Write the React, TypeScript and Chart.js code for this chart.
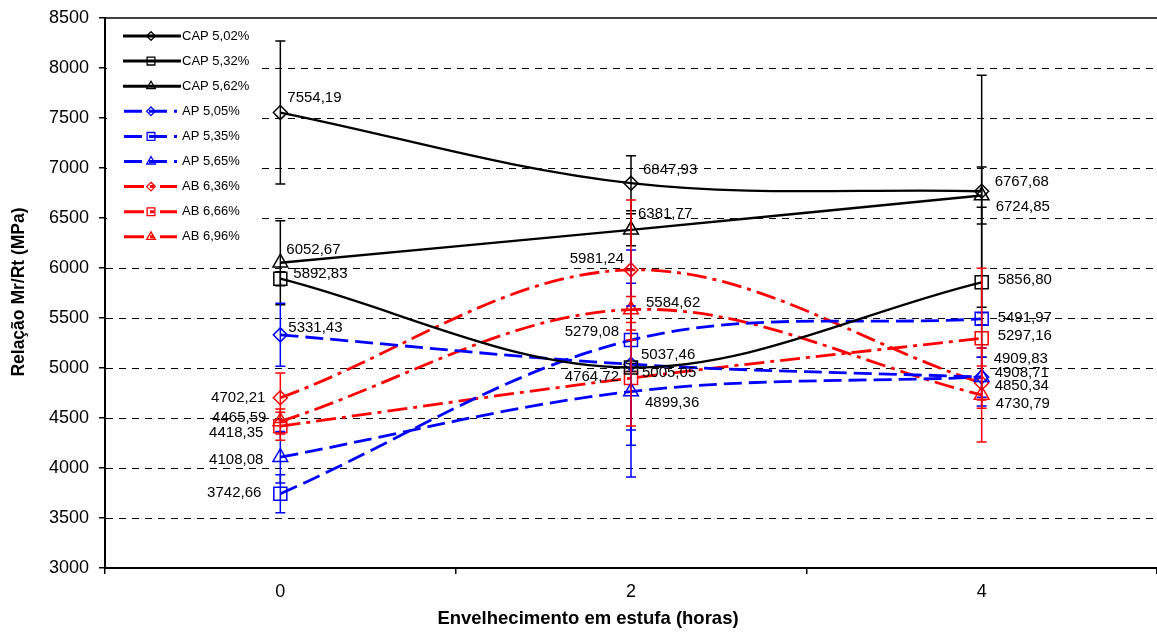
import React, { useEffect, useRef } from 'react';
import { Chart, registerables } from 'chart.js';

Chart.register(...registerables);

// ---------- DATA ----------
const categories = ['0', '2', '4'];
const seriesNames = ['CAP 5,02%', 'CAP 5,32%', 'CAP 5,62%', 'AP 5,05%', 'AP 5,35%', 'AP 5,65%', 'AB 6,36%', 'AB 6,66%', 'AB 6,96%'];

const cap502 = [7554.19, 6847.93, 6767.68];
const cap532 = [5892.83, 5005.05, 5856.8];
const cap562 = [6052.67, 6381.77, 6724.85];
const ap505 = [5331.43, 5037.46, 4909.83];
const ap535 = [3742.66, 5279.08, 5491.97];
const ap565 = [4108.08, 4764.72, 4908.71];
const ab636 = [4702.21, 5981.24, 4850.34];
const ab666 = [4418.35, 4899.36, 5297.16];
const ab696 = [4465.59, 5584.62, 4730.79];

// error bar half-lengths (±)
const errCap502 = [715, 275, 1160];
const errCap532 = [70, 40, 750];
const errCap562 = [421, 160, 285];
const errAp505 = [315, 810, 290];
const errAp535 = [190, 900, 60];
const errAp565 = [258, 855, 200];
const errAb636 = [248, 700, 170];
const errAb666 = [140, 480, 700];
const errAb696 = [125, 130, 470];

const yMin = 3000;
const yMax = 8500;
const yStep = 500;

const xTitle = 'Envelhecimento em estufa (horas)';
const yTitle = 'Relação Mr/Rt (MPa)';

// ---------- STYLE / LAYOUT ----------
const FONT = "'Liberation Sans', Arial, Helvetica, sans-serif";
const BLACK = '#000000';
const BLUE = '#0000FF';
const RED = '#FF0000';

const seriesValues = [cap502, cap532, cap562, ap505, ap535, ap565, ab636, ab666, ab696];
const seriesErrors = [errCap502, errCap532, errCap562, errAp505, errAp535, errAp565, errAb636, errAb666, errAb696];
const seriesColors = [BLACK, BLACK, BLACK, BLUE, BLUE, BLUE, RED, RED, RED];
const seriesShapes = ['rectRot', 'rect', 'triangle', 'rectRot', 'rect', 'triangle', 'rectRot', 'rect', 'triangle'];
const DASH_SOLID: number[] = [];
const DASH_BLUE = [18, 7];
const DASH_RED = [20, 6, 4, 6];
const seriesDashes = [DASH_SOLID, DASH_SOLID, DASH_SOLID, DASH_BLUE, DASH_BLUE, DASH_BLUE, DASH_RED, DASH_RED, DASH_RED];

// label offsets [dx, dy, align] relative to the point
const labelOffsets: [number, number, CanvasTextAlign][][] = [
  [[7, -15, 'left'], [12, -13, 'left'], [13, -9.5, 'left']],
  [[13, -5, 'left'], [11, 5, 'left'], [16, -2, 'left']],
  [[6, -13, 'left'], [7, -16, 'left'], [14, 11, 'left']],
  [[8, -7, 'left'], [10, -9, 'left'], [12, -18, 'left']],
  [[-19, -1, 'right'], [-12, -8, 'right'], [16, -1, 'left']],
  [[-17, 3, 'right'], [-12, -15, 'right'], [13, -4, 'left']],
  [[-15, 0, 'right'], [-7, -11, 'right'], [13, 3, 'left']],
  [[-17, 7, 'right'], [14, 25, 'left'], [16, -2, 'left']],
  [[-14, -4, 'right'], [15, -7, 'left'], [14, 9, 'left']],
];

const pointRadius = (shape: string) => (shape === 'rect' ? 9.2 : shape === 'triangle' ? 8.5 : 7);

function fmt(v: number) {
  return v.toFixed(2).replace('.', ',');
}

function drawMarker(ctx: CanvasRenderingContext2D, shape: string, x: number, y: number, r: number) {
  ctx.beginPath();
  if (shape === 'rectRot') {
    ctx.moveTo(x, y - r);
    ctx.lineTo(x + r, y);
    ctx.lineTo(x, y + r);
    ctx.lineTo(x - r, y);
    ctx.closePath();
  } else if (shape === 'rect') {
    const s = r * Math.SQRT1_2;
    ctx.rect(x - s, y - s, 2 * s, 2 * s);
  } else {
    const a = (Math.PI * 2) / 3;
    ctx.moveTo(x, y - r);
    ctx.lineTo(x + Math.sin(a) * r, y + 0.5 * r);
    ctx.lineTo(x - Math.sin(a) * r, y + 0.5 * r);
    ctx.closePath();
  }
  ctx.stroke();
}

const decorPlugin = {
  id: 'decor',
  beforeDatasetsDraw(chart: any) {
    const ctx: CanvasRenderingContext2D = chart.ctx;
    const area = chart.chartArea;
    const ys = chart.scales.y;
    ctx.save();
    ctx.strokeStyle = BLACK;
    ctx.lineWidth = 1;
    ctx.setLineDash([7, 6]);
    for (let v = yMin + yStep; v < yMax; v += yStep) {
      const py = Math.round(ys.getPixelForValue(v)) + 0.5;
      ctx.beginPath();
      ctx.moveTo(area.left + 1, py);
      ctx.lineTo(area.right, py);
      ctx.stroke();
    }
    ctx.setLineDash([]);
    ctx.lineWidth = 1.5;
    const top = ys.getPixelForValue(yMax);
    ctx.beginPath();
    ctx.moveTo(area.left, top);
    ctx.lineTo(area.right, top);
    ctx.stroke();
    ctx.restore();
  },
  afterDatasetsDraw(chart: any) {
    const ctx: CanvasRenderingContext2D = chart.ctx;
    const ys = chart.scales.y;
    ctx.save();
    // error bars
    ctx.lineWidth = 1.5;
    ctx.setLineDash([]);
    seriesValues.forEach((vals, i) => {
      const meta = chart.getDatasetMeta(i);
      ctx.strokeStyle = seriesColors[i];
      vals.forEach((v, j) => {
        const e = seriesErrors[i][j];
        const px = meta.data[j].x;
        const y1 = ys.getPixelForValue(v + e);
        const y2 = ys.getPixelForValue(v - e);
        ctx.beginPath();
        ctx.moveTo(px, y1);
        ctx.lineTo(px, y2);
        ctx.moveTo(px - 5, y1);
        ctx.lineTo(px + 5, y1);
        ctx.moveTo(px - 5, y2);
        ctx.lineTo(px + 5, y2);
        ctx.stroke();
      });
    });
    // data labels
    ctx.fillStyle = BLACK;
    ctx.font = `15px ${FONT}`;
    ctx.textBaseline = 'middle';
    seriesValues.forEach((vals, i) => {
      const meta = chart.getDatasetMeta(i);
      vals.forEach((v, j) => {
        const [dx, dy, al] = labelOffsets[i][j];
        ctx.textAlign = al;
        ctx.fillText(fmt(v), meta.data[j].x + dx, meta.data[j].y + dy);
      });
    });
    // legend
    ctx.fillStyle = '#FFFFFF';
    ctx.fillRect(107, 21, 150, 226);
    ctx.font = `13px ${FONT}`;
    ctx.textAlign = 'left';
    seriesNames.forEach((name, i) => {
      const y = 36 + i * 25.1;
      const x0 = i < 3 ? 123 : 124;
      const x1 = i < 3 ? 181 : 177;
      ctx.strokeStyle = seriesColors[i];
      ctx.lineWidth = 3;
      ctx.setLineDash(seriesDashes[i]);
      ctx.beginPath();
      ctx.moveTo(x0, y);
      ctx.lineTo(x1, y);
      ctx.stroke();
      ctx.setLineDash([]);
      ctx.lineWidth = 1.3;
      const shape = seriesShapes[i];
      const r = shape === 'rect' ? 5.5 : shape === 'triangle' ? 5 : 4.3;
      drawMarker(ctx, shape, 151, y, r);
      ctx.fillStyle = BLACK;
      ctx.fillText(name, 182, y);
    });
    // axis titles
    ctx.fillStyle = BLACK;
    ctx.font = `bold 18.5px ${FONT}`;
    ctx.textAlign = 'center';
    ctx.textBaseline = 'middle';
    ctx.fillText(xTitle, 588, 619);
    ctx.translate(19, 292);
    ctx.rotate(-Math.PI / 2);
    ctx.font = `bold 17.5px ${FONT}`;
    ctx.fillText(yTitle, 0, 0);
    ctx.restore();
  },
};

export default function App() {
  const ref = useRef<HTMLCanvasElement>(null);
  useEffect(() => {
    if (!ref.current) return;
    const datasets = seriesValues.map((vals, i) => ({
      label: seriesNames[i],
      data: vals,
      borderColor: seriesColors[i],
      borderWidth: i < 3 ? 2.3 : 2.8,
      borderDash: seriesDashes[i],
      tension: 0.35,
      fill: false,
      pointStyle: seriesShapes[i],
      pointRadius: pointRadius(seriesShapes[i]),
      pointHoverRadius: pointRadius(seriesShapes[i]),
      pointBorderColor: seriesColors[i],
      pointBackgroundColor: 'rgba(0,0,0,0)',
      pointBorderWidth: 1.5,
    }));
    const chart = new Chart(ref.current, {
      type: 'line',
      data: { labels: categories, datasets },
      options: {
        responsive: false,
        animation: false,
        devicePixelRatio: 1,
        layout: { autoPadding: false, padding: { top: 18, left: 0, right: 0, bottom: 0 } },
        plugins: {
          legend: { display: false },
          tooltip: { enabled: false },
        },
        scales: {
          x: {
            type: 'category',
            offset: true,
            grid: { drawOnChartArea: false, drawTicks: true, tickLength: 6, tickColor: BLACK, offset: true, lineWidth: 1.5 },
            border: { color: BLACK, width: 2 },
            ticks: { font: { family: FONT, size: 18 }, color: BLACK, padding: 7, maxRotation: 0 },
            afterFit: (s: any) => {
              s.height = 64;
              s.paddingLeft = 0;
              s.paddingRight = 0;
            },
          },
          y: {
            type: 'linear',
            min: yMin,
            max: yMax,
            grid: { drawOnChartArea: false, drawTicks: true, tickLength: 6, tickColor: BLACK, lineWidth: 1.5 },
            border: { color: BLACK, width: 2 },
            ticks: {
              stepSize: yStep,
              font: { family: FONT, size: 18 },
              color: BLACK,
              padding: 10,
              callback: (v: any) => String(v),
            },
            afterFit: (s: any) => {
              s.width = 105;
              s.paddingTop = 0;
              s.paddingBottom = 0;
            },
          },
        },
      } as any,
      plugins: [decorPlugin],
    });
    return () => chart.destroy();
  }, []);
  return (
    <div style={{ position: 'fixed', left: 0, top: 0, width: 1157, height: 632, background: '#FFFFFF' }}>
      <canvas ref={ref} width={1157} height={632} style={{ display: 'block', width: 1157, height: 632 }} />
    </div>
  );
}
